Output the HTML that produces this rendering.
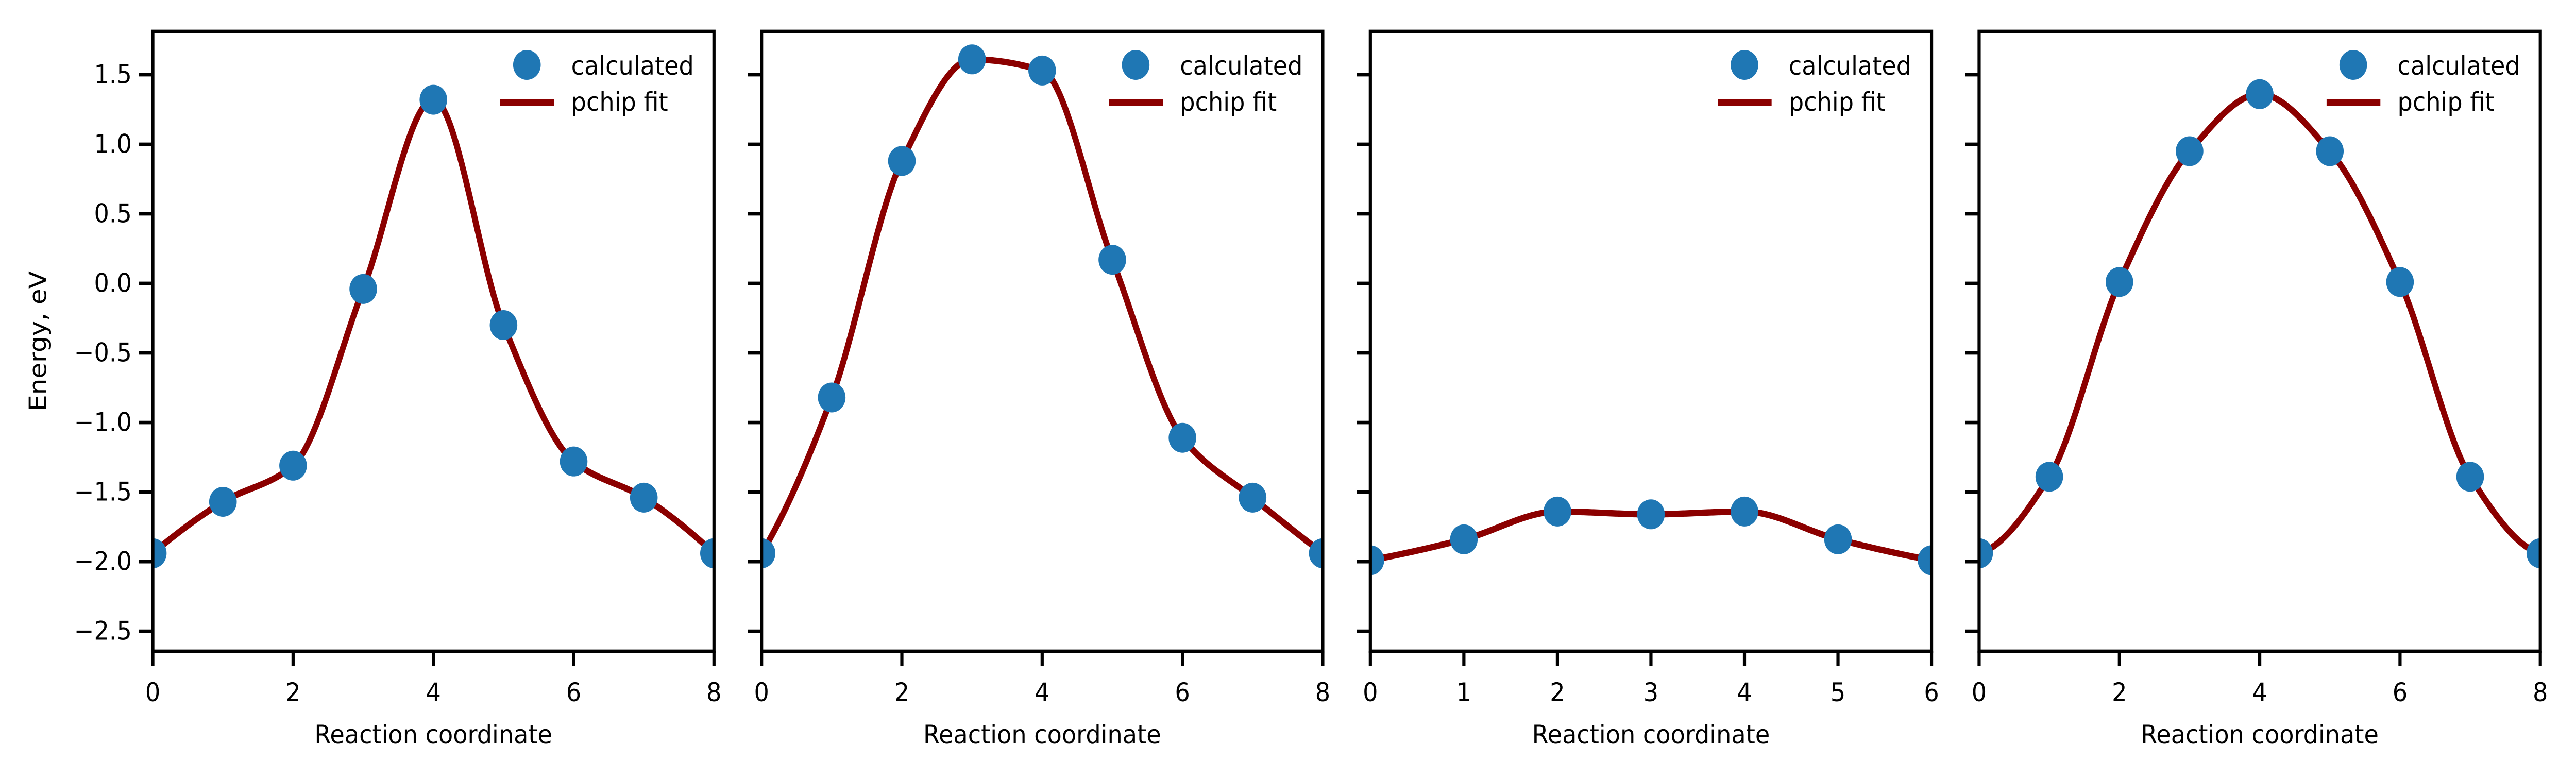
<!DOCTYPE html>
<html><head><meta charset="utf-8">
<style>
html,body{margin:0;padding:0;background:#fff;width:100%;height:100%;overflow:hidden;}
svg{display:block;width:100vw;height:100vh;}
text{font-family:"DejaVu Sans","Liberation Sans",sans-serif;font-size:50px;fill:#000;}
</style></head>
<body>
<svg id="chart" viewBox="0 0 5412 1512" preserveAspectRatio="none" xmlns="http://www.w3.org/2000/svg">
<rect x="0" y="0" width="5412" height="1512" fill="#fff"/>
<text x="80" y="662" text-anchor="middle" dominant-baseline="central" transform="rotate(-90 80 662)">Energy, eV</text>
</svg>
<script>
const panel1Values = [-1.94, -1.57, -1.31, -0.04, 1.32, -0.30, -1.28, -1.54, -1.94];
const panel2Values = [-1.94, -0.82, 0.88, 1.61, 1.53, 0.17, -1.11, -1.54, -1.94];
const panel3Values = [-1.99, -1.84, -1.64, -1.66, -1.64, -1.84, -1.99];
const panel4Values = [-1.94, -1.39, 0.01, 0.95, 1.36, 0.95, 0.01, -1.39, -1.94];
const yTicks = [1.5, 1.0, 0.5, 0.0, -0.5, -1.0, -1.5, -2.0, -2.5];
const yTickLabels = ["1.5", "1.0", "0.5", "0.0", "\u22120.5", "\u22121.0", "\u22121.5", "\u22122.0", "\u22122.5"];
const xTicks8 = [0, 2, 4, 6, 8];
const xTicks6 = [0, 1, 2, 3, 4, 5, 6];
const yMin = -2.644, yMax = 1.811;

const NS = "http://www.w3.org/2000/svg";
const svg = document.getElementById("chart");
function mk(tag, attrs, parent) {
  const e = document.createElementNS(NS, tag);
  for (const k in attrs) e.setAttribute(k, attrs[k]);
  (parent || svg).appendChild(e);
  return e;
}
function pchip(y) {
  const n = y.length, h = 1, d = [], m = new Array(n).fill(0);
  for (let i = 0; i < n - 1; i++) d.push((y[i + 1] - y[i]) / h);
  for (let i = 1; i < n - 1; i++) {
    if (d[i - 1] * d[i] <= 0) m[i] = 0;
    else m[i] = 2 / (1 / d[i - 1] + 1 / d[i]);
  }
  function endSlope(d0, d1) {
    let s = (3 * d0 - d1) / 2;
    if (Math.sign(s) !== Math.sign(d0)) s = 0;
    else if (Math.sign(d0) !== Math.sign(d1) && Math.abs(s) > Math.abs(3 * d0)) s = 3 * d0;
    return s;
  }
  m[0] = endSlope(d[0], d[1]);
  m[n - 1] = endSlope(d[n - 2], d[n - 3]);
  return function (x) {
    let i = Math.min(Math.floor(x), n - 2);
    const t = x - i;
    const h00 = 2 * t * t * t - 3 * t * t + 1, h10 = t * t * t - 2 * t * t + t;
    const h01 = -2 * t * t * t + 3 * t * t, h11 = t * t * t - t * t;
    return h00 * y[i] + h10 * m[i] + h01 * y[i + 1] + h11 * m[i + 1];
  };
}
const panels = [
  {vals: panel1Values, ticks: xTicks8, left: 321, ylab: true},
  {vals: panel2Values, ticks: xTicks8, left: 1600, ylab: false},
  {vals: panel3Values, ticks: xTicks6, left: 2879, ylab: false},
  {vals: panel4Values, ticks: xTicks8, left: 4158, ylab: false}
];
const W = 1179, TOP = 61, BOT = 1264;
panels.forEach((p, pi) => {
  const xMax = p.vals.length - 1;
  const sx = v => p.left + v / xMax * W;
  const sy = v => TOP + (yMax - v) / (yMax - yMin) * (BOT - TOP);
  const g = mk("g", {});
  
  
  yTicks.forEach((t, i) => {
    const tk = mk("line", {x1: p.left - 29, x2: p.left, y1: sy(t), y2: sy(t), stroke: "#000", "stroke-width": 6.7}, g);
    
    
    if (p.ylab) {
      const tl = mk("text", {x: p.left - 44, y: sy(t), "text-anchor": "end", "dominant-baseline": "central"}, g);
      tl.textContent = yTickLabels[i];
      
      
    }
  });
  p.ticks.forEach(t => {
    const tk = mk("line", {x1: sx(t), x2: sx(t), y1: BOT, y2: BOT + 29, stroke: "#000", "stroke-width": 6.7}, g);
    
    
    const tl = mk("text", {x: sx(t), y: 1361, "text-anchor": "middle"}, g);
    tl.textContent = String(t);
    
    
  });
  const xl = mk("text", {x: p.left + W / 2, y: 1443, "text-anchor": "middle"}, g);
  xl.textContent = "Reaction coordinate";
  
  
  const cp = mk("clipPath", {id: "clip" + pi}, g);
  mk("rect", {x: p.left, y: TOP, width: W, height: BOT - TOP}, cp);
  const f = pchip(p.vals);
  let d = "";
  const N = 400;
  for (let k = 0; k <= N; k++) {
    const xv = k / N * xMax;
    d += (k ? "L" : "M") + sx(xv).toFixed(2) + "," + sy(f(xv)).toFixed(2);
  }
  const path = mk("path", {d: d, fill: "none", stroke: "#8b0000", "stroke-width": 12.5, "clip-path": "url(#clip" + pi + ")"}, g);
  
  
  const pts = mk("g", {"clip-path": "url(#clip" + pi + ")"}, g);
  
  
  p.vals.forEach((v, i) => {
    const c = mk("circle", {cx: sx(i), cy: sy(v), r: 29, fill: "#1f77b4"}, pts);
    
    
  });
  const frame = mk("rect", {x: p.left, y: TOP, width: W, height: BOT - TOP, fill: "none", stroke: "#000", "stroke-width": 6.7}, g);
  
  
  const lg = mk("g", {}, g);
  
  
  const lm = mk("circle", {cx: p.left + 786, cy: 126, r: 29, fill: "#1f77b4"}, lg);
  
  
  const lt1 = mk("text", {x: p.left + 879, y: 145}, lg);
  lt1.textContent = "calculated";
  
  
  const ll = mk("line", {x1: p.left + 730, x2: p.left + 843, y1: 199, y2: 199, stroke: "#8b0000", "stroke-width": 12.5}, lg);
  
  
  const lt2 = mk("text", {x: p.left + 879, y: 215}, lg);
  lt2.textContent = "pchip fit";
  
  
});
</script>
</body></html>
